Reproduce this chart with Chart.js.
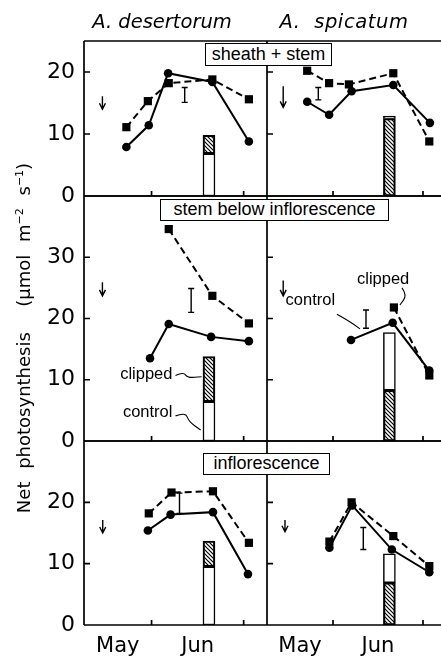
<!DOCTYPE html>
<html lang="en">
<head>
  <meta charset="UTF-8">
  <title>Net photosynthesis</title>
  <script src="https://cdn.jsdelivr.net/npm/chart.js"></script>
  <style>
    body { margin: 0; background: #fff; }
    #fig { position: relative; width: 441px; height: 661px; overflow: hidden; color: #000; font-family: "DejaVu Sans", sans-serif; }
    #fig canvas { position: absolute; }
    .title { position: absolute; top: 10px; width: 200px; margin-left: -100px; text-align: center; font-style: italic; font-size: 19.5px; line-height: 24px; white-space: nowrap; }
    .ytitle { position: absolute; left: -180px; top: 326px; width: 400px; height: 24px; line-height: 24px; text-align: center; font-size: 18px; word-spacing: 7px; white-space: nowrap; transform: rotate(-90deg); }
    .ytitle sup { font-size: 11px; word-spacing: 0; }
    .box { position: absolute; z-index: 5; background: #fff; border: 1.5px solid #000; box-sizing: border-box; text-align: center; font-family: "Liberation Sans", Arial, sans-serif; font-size: 18px; white-space: nowrap; }
  </style>
</head>
<body>
  <div id="fig">
    <canvas id="c1l" width="267" height="203" style="left:0;top:17px"></canvas>
    <canvas id="c1r" width="180" height="203" style="left:261px;top:17px"></canvas>
    <canvas id="c2l" width="267" height="293" style="left:0;top:172px"></canvas>
    <canvas id="c2r" width="180" height="293" style="left:261px;top:172px"></canvas>
    <canvas id="c3l" width="267" height="244" style="left:0;top:417px"></canvas>
    <canvas id="c3r" width="180" height="244" style="left:261px;top:417px"></canvas>

    <div class="title" style="left:162px">A. desertorum</div>
    <div class="title" style="left:344px;letter-spacing:0.6px">A. &nbsp;spicatum</div>
    <div class="ytitle">Net photosynthesis &nbsp;(μmol m<sup>−2</sup> s<sup>−1</sup>)</div>

    <div class="box" style="left:205px;top:43px;width:127px;height:23px;line-height:20px">sheath + stem</div>
    <div class="box" style="left:160px;top:199px;width:229px;height:22px;line-height:19px">stem below inflorescence</div>
    <div class="box" style="left:203px;top:453px;width:127px;height:22px;line-height:19px">inflorescence</div>
  </div>

  <script>
    // x values are days counted from 1 June
    const monthNames = ['May', 'Jun'];
    const monthCentres = [-11, 15];
    const monthStarts = [0, 30];

    // A. desertorum, sheath + stem
    const desSheathClipDays = [-8.2, -1.2, 5.6, 19.8, 31.7];
    const desSheathClip = [11.1, 15.3, 18.2, 18.8, 15.6];
    const desSheathCtrlDays = [-8.2, -0.9, 5.4, 19.8, 31.7];
    const desSheathCtrl = [7.9, 11.4, 19.8, 18.4, 8.8];
    const desSheathErr = [10.8, 15.1, 17.5];
    const desSheathArrow = [-16, 16.1, 14.0];
    const desSheathBar = [18.7, 6.8, 9.8];

    // A. spicatum, sheath + stem
    const spiSheathClipDays = [-8.6, -1.3, 5.3, 20.1, 32.1];
    const spiSheathClip = [20.2, 18.2, 18.0, 19.8, 8.8];
    const spiSheathCtrlDays = [-8.6, -1.3, 6.2, 20.1, 32.3];
    const spiSheathCtrl = [15.2, 13.1, 16.9, 17.9, 11.8];
    const spiSheathErr = [-4.9, 15.5, 17.5];
    const spiSheathArrow = [-16.6, 17.7, 14.3];
    const spiSheathBar = [18.8, 12.5, 12.9];

    // A. desertorum, stem below inflorescence
    const desStemClipDays = [5.6, 19.8, 31.7];
    const desStemClip = [34.6, 23.7, 19.2];
    const desStemCtrlDays = [-0.5, 5.6, 19.4, 31.7];
    const desStemCtrl = [13.5, 19.1, 17.0, 16.3];
    const desStemErr = [12.9, 21.0, 24.9];
    const desStemArrow = [-16, 25.9, 23.7];
    const desStemBar = [18.7, 6.4, 13.8];

    // A. spicatum, stem below inflorescence
    const spiStemClipDays = [20.3, 32.1];
    const spiStemClip = [21.8, 10.7];
    const spiStemCtrlDays = [6.0, 19.9, 32.1];
    const spiStemCtrl = [16.5, 19.3, 11.5];
    const spiStemErr = [11.0, 18.4, 21.4];
    const spiStemArrow = [-16.6, 26.2, 23.7];
    const spiStemBar = [18.8, 8.3, 17.7];

    // A. desertorum, inflorescence
    const desInflClipDays = [-0.9, 6.5, 20.0, 31.7];
    const desInflClip = [18.2, 21.6, 21.8, 13.4];
    const desInflCtrlDays = [-1.2, 6.2, 20.0, 31.4];
    const desInflCtrl = [15.4, 18.0, 18.4, 8.3];
    const desInflErr = [9.1, 18.2, 21.5];
    const desInflArrow = [-15.9, 17.1, 15.0];
    const desInflBar = [18.7, 9.5, 13.7];

    // A. spicatum, inflorescence
    const spiInflClipDays = [-1.2, 6.2, 20.1, 32.1];
    const spiInflClip = [13.6, 20.0, 14.5, 9.6];
    const spiInflCtrlDays = [-1.2, 6.4, 19.6, 32.1];
    const spiInflCtrl = [12.6, 19.5, 12.3, 8.6];
    const spiInflErr = [10.1, 12.3, 15.9];
    const spiInflArrow = [-16, 17.1, 15.2];
    const spiInflBar = [18.8, 6.9, 11.6];

    Chart.defaults.font.family = '"DejaVu Sans", sans-serif';
    Chart.defaults.color = '#000';

    function pts(days, vals) {
      return days.map((d, i) => ({ x: d, y: vals[i] }));
    }

    function makeHatch() {
      const c = document.createElement('canvas');
      c.width = 4; c.height = 4;
      const g = c.getContext('2d');
      g.strokeStyle = '#000';
      g.lineWidth = 1.2;
      g.beginPath();
      g.moveTo(-1, -1); g.lineTo(5, 5);
      g.moveTo(-1, 3); g.lineTo(1, 5);
      g.moveTo(3, -1); g.lineTo(5, 1);
      g.stroke();
      return g.createPattern(c, 'repeat');
    }

    // frame, inward ticks, error bar, arrow and the little notes
    function decor(p) {
      return {
        id: 'decor',
        afterDatasetsDraw(chart) {
          const { ctx, chartArea: a, scales: { x, y } } = chart;
          const X = v => x.getPixelForValue(v);
          const Y = v => y.getPixelForValue(v);
          ctx.save();
          ctx.strokeStyle = '#000';
          ctx.lineWidth = 1.7;
          ctx.beginPath();
          ctx.moveTo(a.left, a.top); ctx.lineTo(a.left, a.bottom);
          ctx.moveTo(a.left, a.top); ctx.lineTo(chart.width, a.top);
          ctx.moveTo(a.left, a.bottom); ctx.lineTo(chart.width, a.bottom);
          for (let v = 10; v < y.max; v += 10) {
            ctx.moveTo(a.left, Y(v)); ctx.lineTo(a.left + 6, Y(v));
          }
          monthStarts.forEach(d => {
            ctx.moveTo(X(d), a.bottom); ctx.lineTo(X(d), a.bottom - 5);
          });
          ctx.stroke();

          ctx.lineWidth = 1.4;
          ctx.beginPath();
          const ex = X(p.err[0]);
          ctx.moveTo(ex, Y(p.err[1])); ctx.lineTo(ex, Y(p.err[2]));
          ctx.moveTo(ex - 3, Y(p.err[1])); ctx.lineTo(ex + 3, Y(p.err[1]));
          ctx.moveTo(ex - 3, Y(p.err[2])); ctx.lineTo(ex + 3, Y(p.err[2]));
          const ax = X(p.arrow[0]), ab = Y(p.arrow[2]);
          ctx.moveTo(ax, Y(p.arrow[1])); ctx.lineTo(ax, ab);
          ctx.moveTo(ax - 3, ab - 6); ctx.lineTo(ax, ab); ctx.lineTo(ax + 3, ab - 6);
          ctx.stroke();

          ctx.font = '16.5px "Liberation Sans", Arial, sans-serif';
          ctx.fillStyle = '#000';
          ctx.textBaseline = 'middle';
          ctx.lineWidth = 1.1;
          (p.notes || []).forEach(n => {
            ctx.textAlign = n.align;
            ctx.fillText(n.text, X(n.at[0]), Y(n.at[1]));
            const q = n.path.map(k => [X(k[0]), Y(k[1])]);
            ctx.beginPath();
            ctx.moveTo(q[0][0], q[0][1]);
            for (let i = 1; i < q.length - 1; i++) {
              const mx = (q[i][0] + q[i + 1][0]) / 2, my = (q[i][1] + q[i + 1][1]) / 2;
              ctx.quadraticCurveTo(q[i][0], q[i][1], mx, my);
            }
            ctx.lineTo(q[q.length - 1][0], q[q.length - 1][1]);
            ctx.stroke();
          });
          ctx.restore();
        }
      };
    }

    function panel(id, p) {
      const left = p.col === 0, bottom = p.row === 2;
      const hatch = makeHatch();
      const barStyle = { borderColor: '#000', borderWidth: 1.5, borderSkipped: false, barThickness: 12, grouped: false, order: 3 };
      new Chart(document.getElementById(id), {
        type: 'bar',
        data: {
          datasets: [
            Object.assign({ data: [{ x: p.bar[0], y: [0, p.bar[1]] }], backgroundColor: p.hatchLow ? hatch : '#fff' }, barStyle),
            Object.assign({ data: [{ x: p.bar[0], y: [p.bar[1], p.bar[2]] }], backgroundColor: p.hatchLow ? '#fff' : hatch }, barStyle),
            {
              type: 'line', data: pts(p.ctrlDays, p.ctrl), borderColor: '#000', borderWidth: 2, tension: 0,
              pointStyle: 'circle', pointRadius: 4.3, pointBackgroundColor: '#000', pointBorderWidth: 0, order: 2
            },
            {
              type: 'line', data: pts(p.clipDays, p.clip), borderColor: '#000', borderWidth: 2, borderDash: [7, 4], tension: 0,
              pointStyle: 'rect', pointRadius: 5.8, pointBackgroundColor: '#000', pointBorderWidth: 0, order: 1
            }
          ]
        },
        options: {
          responsive: false,
          animation: false,
          layout: { autoPadding: false, padding: { top: 24, bottom: bottom ? 0 : 24, left: left ? 0 : 6, right: 0 } },
          plugins: { legend: { display: false }, tooltip: { enabled: false } },
          scales: {
            x: {
              type: 'linear', offset: false, min: -22, max: left ? 37.6 : 36, display: bottom,
              grid: { display: false, drawTicks: false }, border: { display: false },
              afterBuildTicks: s => { s.ticks = monthCentres.map(v => ({ value: v })); },
              afterFit: s => { s.height = bottom ? 36 : 0; },
              ticks: { font: { size: 21 }, padding: 9, maxRotation: 0, autoSkip: false, callback: (v, i) => monthNames[i] }
            },
            y: {
              type: 'linear', min: 0, max: p.max, display: left,
              grid: { display: false, drawTicks: false }, border: { display: false },
              ticks: { stepSize: 10, font: { size: 22 }, padding: 9 },
              afterBuildTicks: s => { s.ticks = s.ticks.filter(t => t.value < s.max); },
              afterFit: s => { s.width = left ? 84 : 0; }
            }
          }
        },
        plugins: [decor(p)]
      });
    }

    panel('c1l', { row: 0, col: 0, max: 25, hatchLow: false,
      clipDays: desSheathClipDays, clip: desSheathClip, ctrlDays: desSheathCtrlDays, ctrl: desSheathCtrl,
      err: desSheathErr, arrow: desSheathArrow, bar: desSheathBar });
    panel('c1r', { row: 0, col: 1, max: 25, hatchLow: true,
      clipDays: spiSheathClipDays, clip: spiSheathClip, ctrlDays: spiSheathCtrlDays, ctrl: spiSheathCtrl,
      err: spiSheathErr, arrow: spiSheathArrow, bar: spiSheathBar });
    panel('c2l', { row: 1, col: 0, max: 40, hatchLow: false,
      clipDays: desStemClipDays, clip: desStemClip, ctrlDays: desStemCtrlDays, ctrl: desStemCtrl,
      err: desStemErr, arrow: desStemArrow, bar: desStemBar,
      notes: [
        { text: 'clipped', at: [6.8, 10.9], align: 'right', path: [[7.8, 10.7], [10.4, 11.3], [11.7, 10.3], [16.3, 10.5]] },
        { text: 'control', at: [6.8, 4.6], align: 'right', path: [[7.8, 4.1], [11.1, 4.7], [12.1, 3.2], [16.0, 1.8]] }
      ] });
    panel('c2r', { row: 1, col: 1, max: 40, hatchLow: true,
      clipDays: spiStemClipDays, clip: spiStemClip, ctrlDays: spiStemCtrlDays, ctrl: spiStemCtrl,
      err: spiStemErr, arrow: spiStemArrow, bar: spiStemBar,
      notes: [
        { text: 'control', at: [0.7, 23.0], align: 'right', path: [[1.3, 20.7], [4.7, 19.8], [9.0, 18.3]] },
        { text: 'clipped', at: [8.0, 26.4], align: 'left', path: [[23.0, 25.0], [24.7, 23.8], [22.3, 22.2]] }
      ] });
    panel('c3l', { row: 2, col: 0, max: 30, hatchLow: false,
      clipDays: desInflClipDays, clip: desInflClip, ctrlDays: desInflCtrlDays, ctrl: desInflCtrl,
      err: desInflErr, arrow: desInflArrow, bar: desInflBar });
    panel('c3r', { row: 2, col: 1, max: 30, hatchLow: true,
      clipDays: spiInflClipDays, clip: spiInflClip, ctrlDays: spiInflCtrlDays, ctrl: spiInflCtrl,
      err: spiInflErr, arrow: spiInflArrow, bar: spiInflBar });
  </script>
</body>
</html>
